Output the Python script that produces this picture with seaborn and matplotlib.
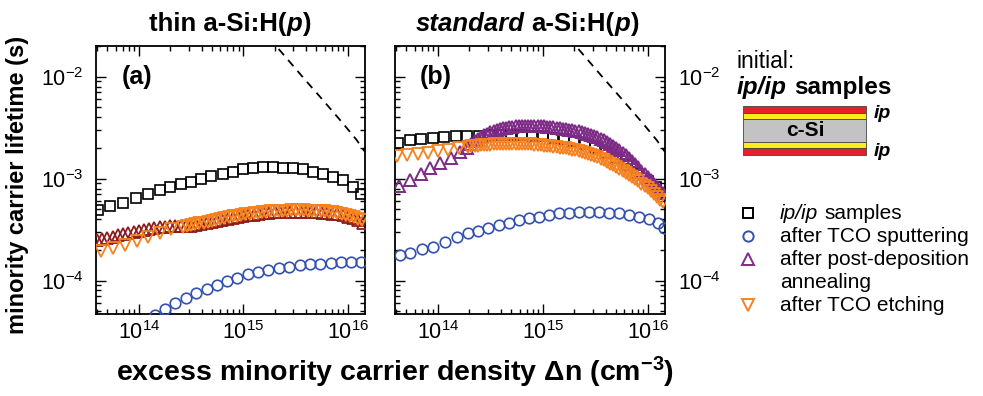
#%% Cargar datos
import seaborn as sns
import matplotlib
matplotlib.use('Agg')
import matplotlib.pyplot as plt
from matplotlib import font_manager
from matplotlib.patches import Rectangle
from matplotlib.ticker import LogLocator, NullFormatter

# panel (a): thin a-Si:H(p)
dn_a_sq = [4.08e13, 5.28e13, 7.08e13, 9.51e13, 1.23e14, 1.59e14, 1.98e14, 2.56e14, 3.19e14, 3.98e14,
           4.95e14, 6.41e14, 8.00e14, 9.95e14, 1.24e15, 1.55e15, 1.93e15, 2.40e15, 3.00e15, 3.73e15,
           4.66e15, 5.81e15, 7.23e15, 9.02e15, 1.12e16, 1.35e16]
tau_a_sq = [4.9e-4, 5.4e-4, 5.8e-4, 6.4e-4, 7.05e-4, 7.7e-4, 8.3e-4, 8.8e-4, 9.3e-4, 1.0e-3,
            1.06e-3, 1.12e-3, 1.17e-3, 1.23e-3, 1.26e-3, 1.29e-3, 1.29e-3, 1.28e-3, 1.26e-3, 1.23e-3,
            1.17e-3, 1.11e-3, 1.04e-3, 9.7e-4, 8.3e-4, 7.05e-4]

dn_a_ci = [1.42e14, 1.79e14, 2.24e14, 2.82e14, 3.54e14, 4.45e14, 5.58e14, 7.01e14, 8.79e14, 1.10e15,
           1.39e15, 1.74e15, 2.19e15, 2.75e15, 3.45e15, 4.34e15, 5.45e15, 6.84e15, 8.59e15, 1.08e16, 1.35e16]
tau_a_ci = [4.6e-5, 5.3e-5, 5.97e-5, 6.7e-5, 7.5e-5, 8.2e-5, 9.0e-5, 1.0e-4, 1.07e-4, 1.15e-4,
            1.22e-4, 1.27e-4, 1.33e-4, 1.36e-4, 1.41e-4, 1.44e-4, 1.47e-4, 1.50e-4, 1.51e-4, 1.52e-4, 1.52e-4]

dn_a_up = [3.98e13, 4.47e13, 5.01e13, 5.62e13, 6.31e13, 7.08e13, 7.94e13, 8.91e13,
           1.00e14, 1.12e14, 1.26e14, 1.41e14, 1.58e14, 1.78e14, 2.00e14, 2.24e14, 2.51e14, 2.82e14,
           3.16e14, 3.55e14, 3.98e14, 4.47e14, 5.01e14, 5.62e14, 6.31e14, 7.08e14, 7.94e14, 8.91e14,
           1.00e15, 1.12e15, 1.26e15, 1.41e15, 1.58e15, 1.78e15, 2.00e15, 2.24e15, 2.51e15, 2.82e15,
           3.16e15, 3.55e15, 3.98e15, 4.47e15, 5.01e15, 5.62e15, 6.31e15, 7.08e15, 7.94e15, 8.91e15,
           1.00e16, 1.12e16, 1.26e16, 1.41e16]
tau_a_up = [2.50e-4, 2.55e-4, 2.62e-4, 2.70e-4, 2.78e-4, 2.86e-4, 2.94e-4, 3.01e-4,
            3.08e-4, 3.15e-4, 3.22e-4, 3.27e-4, 3.32e-4, 3.36e-4, 3.40e-4, 3.42e-4, 3.43e-4, 3.44e-4,
            3.45e-4, 3.50e-4, 3.57e-4, 3.66e-4, 3.75e-4, 3.86e-4, 3.96e-4, 4.05e-4, 4.13e-4, 4.22e-4,
            4.30e-4, 4.37e-4, 4.44e-4, 4.50e-4, 4.56e-4, 4.62e-4, 4.66e-4, 4.69e-4, 4.71e-4, 4.72e-4,
            4.73e-4, 4.73e-4, 4.72e-4, 4.70e-4, 4.68e-4, 4.65e-4, 4.60e-4, 4.53e-4, 4.45e-4, 4.35e-4,
            4.22e-4, 4.07e-4, 3.90e-4, 3.70e-4]

dn_a_dn = [4.37e13, 5.62e13, 7.41e13, 9.55e13, 1.23e14, 1.58e14, 2.04e14, 2.63e14,
           2.88e14, 3.16e14, 3.47e14, 3.80e14, 4.17e14, 4.57e14, 5.01e14, 5.50e14, 6.03e14, 6.61e14,
           7.24e14, 7.94e14, 8.71e14, 9.55e14,
           1.05e15, 1.15e15, 1.26e15, 1.38e15, 1.51e15, 1.66e15, 1.82e15, 2.00e15, 2.19e15, 2.40e15,
           2.63e15, 2.88e15, 3.16e15, 3.47e15, 3.80e15, 4.17e15, 4.57e15, 5.01e15, 5.50e15, 6.03e15,
           6.61e15, 7.24e15, 7.94e15, 8.71e15, 9.55e15,
           1.05e16, 1.15e16, 1.26e16, 1.38e16]
tau_a_dn = [1.96e-4, 2.07e-4, 2.23e-4, 2.46e-4, 2.69e-4, 2.94e-4, 3.18e-4, 3.37e-4,
            3.43e-4, 3.50e-4, 3.56e-4, 3.63e-4, 3.71e-4, 3.79e-4, 3.87e-4, 3.96e-4, 4.04e-4, 4.12e-4,
            4.19e-4, 4.26e-4, 4.33e-4, 4.40e-4,
            4.46e-4, 4.52e-4, 4.58e-4, 4.63e-4, 4.68e-4, 4.73e-4, 4.77e-4, 4.80e-4, 4.83e-4, 4.85e-4,
            4.86e-4, 4.87e-4, 4.88e-4, 4.88e-4, 4.87e-4, 4.86e-4, 4.85e-4, 4.83e-4, 4.81e-4, 4.78e-4,
            4.73e-4, 4.67e-4, 4.60e-4, 4.52e-4, 4.42e-4,
            4.32e-4, 4.20e-4, 4.05e-4, 3.90e-4]

# panel (b): standard a-Si:H(p)
dn_b_sq = [4.17e13, 5.37e13, 6.92e13, 8.91e13, 1.15e14, 1.48e14, 1.91e14, 2.45e14, 3.16e14, 3.98e14,
           5.01e14, 6.31e14, 7.94e14, 1.00e15, 1.26e15, 1.58e15, 2.00e15, 2.51e15, 3.16e15, 3.98e15,
           5.01e15, 6.31e15, 7.94e15, 1.00e16, 1.20e16, 1.41e16]
tau_b_sq = [2.25e-3, 2.40e-3, 2.46e-3, 2.52e-3, 2.56e-3, 2.60e-3, 2.62e-3, 2.64e-3, 2.65e-3, 2.66e-3,
            2.66e-3, 2.66e-3, 2.64e-3, 2.60e-3, 2.53e-3, 2.44e-3, 2.32e-3, 2.18e-3, 2.00e-3, 1.80e-3,
            1.58e-3, 1.36e-3, 1.14e-3, 9.5e-4, 8.2e-4, 7.2e-4]

dn_b_ci = [4.33e13, 5.40e13, 6.98e13, 9.02e13, 1.17e14, 1.51e14, 1.95e14, 2.43e14, 3.03e14, 3.78e14,
           4.71e14, 5.87e14, 7.33e14, 9.12e14, 1.14e15, 1.42e15, 1.77e15, 2.20e15, 2.74e15, 3.42e15,
           4.27e15, 5.31e15, 6.62e15, 8.26e15, 1.03e16, 1.24e16, 1.43e16]
tau_b_ci = [1.78e-4, 1.87e-4, 2.02e-4, 2.15e-4, 2.41e-4, 2.69e-4, 2.90e-4, 3.08e-4, 3.25e-4, 3.50e-4,
            3.69e-4, 3.92e-4, 4.07e-4, 4.22e-4, 4.38e-4, 4.56e-4, 4.62e-4, 4.66e-4, 4.70e-4, 4.70e-4,
            4.62e-4, 4.56e-4, 4.38e-4, 4.22e-4, 3.98e-4, 3.69e-4, 3.25e-4]

dn_b_dense = [2.09e14, 2.24e14, 2.40e14, 2.57e14, 2.75e14, 2.95e14, 3.16e14, 3.39e14, 3.63e14, 3.89e14,
              4.17e14, 4.47e14, 4.79e14, 5.13e14, 5.50e14, 5.89e14, 6.31e14, 6.76e14, 7.24e14, 7.76e14,
              8.32e14, 8.91e14, 9.55e14,
              1.02e15, 1.10e15, 1.17e15, 1.26e15, 1.35e15, 1.45e15, 1.55e15, 1.66e15, 1.78e15, 1.91e15,
              2.04e15, 2.19e15, 2.34e15, 2.51e15, 2.69e15, 2.88e15, 3.09e15, 3.31e15, 3.55e15, 3.80e15,
              4.07e15, 4.37e15, 4.68e15, 5.01e15, 5.37e15, 5.75e15, 6.17e15, 6.61e15, 7.08e15, 7.59e15,
              8.13e15, 8.71e15, 9.33e15,
              1.00e16, 1.07e16, 1.15e16, 1.23e16, 1.32e16, 1.41e16]

dn_b_up_low = [4.27e13, 5.37e13, 6.92e13, 8.32e13, 1.05e14, 1.32e14, 1.62e14, 1.91e14]
tau_b_up_low = [8.5e-4, 9.7e-4, 1.11e-3, 1.26e-3, 1.43e-3, 1.61e-3, 1.83e-3, 2.02e-3]
tau_b_up = [2.20e-3, 2.32e-3, 2.43e-3, 2.54e-3, 2.65e-3, 2.76e-3, 2.85e-3, 2.93e-3, 3.00e-3, 3.06e-3,
            3.11e-3, 3.15e-3, 3.19e-3, 3.22e-3, 3.25e-3, 3.27e-3, 3.28e-3, 3.29e-3, 3.30e-3, 3.30e-3,
            3.30e-3, 3.29e-3, 3.28e-3,
            3.26e-3, 3.24e-3, 3.21e-3, 3.19e-3, 3.16e-3, 3.13e-3, 3.10e-3, 3.06e-3, 3.02e-3, 2.98e-3,
            2.94e-3, 2.90e-3, 2.85e-3, 2.79e-3, 2.73e-3, 2.67e-3, 2.61e-3, 2.54e-3, 2.46e-3, 2.38e-3,
            2.29e-3, 2.20e-3, 2.11e-3, 2.01e-3, 1.91e-3, 1.80e-3, 1.70e-3, 1.59e-3, 1.49e-3, 1.39e-3,
            1.29e-3, 1.20e-3, 1.11e-3,
            1.03e-3, 9.6e-4, 8.9e-4, 8.3e-4, 7.7e-4, 7.2e-4]

dn_b_dn_low = [4.07e13, 5.13e13, 6.46e13, 8.13e13, 1.00e14, 1.26e14, 1.58e14, 1.95e14]
tau_b_dn_low = [1.66e-3, 1.70e-3, 1.74e-3, 1.79e-3, 1.87e-3, 1.93e-3, 1.99e-3, 2.05e-3]
tau_b_dn = [2.07e-3, 2.09e-3, 2.11e-3, 2.13e-3, 2.14e-3, 2.15e-3, 2.16e-3, 2.17e-3, 2.18e-3, 2.18e-3,
            2.19e-3, 2.19e-3, 2.19e-3, 2.19e-3, 2.19e-3, 2.19e-3, 2.19e-3, 2.18e-3, 2.18e-3, 2.17e-3,
            2.16e-3, 2.14e-3, 2.13e-3,
            2.11e-3, 2.10e-3, 2.08e-3, 2.06e-3, 2.04e-3, 2.02e-3, 2.01e-3, 1.98e-3, 1.95e-3, 1.92e-3,
            1.89e-3, 1.85e-3, 1.81e-3, 1.78e-3, 1.74e-3, 1.70e-3, 1.66e-3, 1.62e-3, 1.57e-3, 1.51e-3,
            1.46e-3, 1.40e-3, 1.35e-3, 1.30e-3, 1.24e-3, 1.19e-3, 1.14e-3, 1.09e-3, 1.04e-3, 9.9e-4,
            9.4e-4, 8.9e-4, 8.5e-4,
            8.1e-4, 7.6e-4, 7.1e-4, 6.6e-4, 6.2e-4, 5.9e-4]

# dashed limit curve (same in both panels)
dn_lim = [1.78e15, 2.23e15, 3.71e15, 5.77e15, 8.95e15, 1.22e16, 1.42e16, 1.50e16]
tau_lim = [2.4e-2, 1.82e-2, 9.9e-3, 5.9e-3, 3.5e-3, 2.38e-3, 1.9e-3, 1.78e-3]

legend_labels = ['ip/ip samples', 'after TCO sputtering', 'after post-deposition\nannealing', 'after TCO etching']
xticks = [1e14, 1e15, 1e16]
yticks = [1e-4, 1e-3, 1e-2]

#%% estilo
sns.set_style('ticks')
names = {f.name for f in font_manager.fontManager.ttflist}
NARROW = 'Liberation Sans Narrow' in names
FN = 'Liberation Sans Narrow' if NARROW else 'Liberation Sans'
plt.rcParams['font.family'] = ['Liberation Sans', 'DejaVu Sans']
plt.rcParams['mathtext.fontset'] = 'custom'
plt.rcParams['mathtext.rm'] = FN
plt.rcParams['mathtext.it'] = FN + ':italic'
plt.rcParams['mathtext.bf'] = FN + ':bold'
for k in ('text.color', 'axes.labelcolor', 'xtick.color', 'ytick.color', 'axes.edgecolor'):
    plt.rcParams[k] = 'black'

fs_tick = 18 if NARROW else 15.5
fs_title = 21 if NARROW else 18.5
fs_xlab = 24 if NARROW else 20.5
fs_ylab = 20 if NARROW else 17

BLUE, PURPLE, DARKRED, ORANGE = '#3451b2', '#7e2b87', '#8c1d1d', '#f5821f'

W, H = 983, 396
fig = plt.figure(figsize=(W / 100, H / 100), dpi=100)
ax_a = fig.add_axes([96 / W, 1 - 314 / H, 269 / W, 268 / H])
ax_b = fig.add_axes([395 / W, 1 - 314 / H, 270 / W, 268 / H])


def pts(ax, x, y, marker, color, ms, z, mew=1.2):
    sns.lineplot(x=x, y=y, ax=ax, estimator=None, sort=False, linestyle='', marker=marker,
                 markersize=ms, markerfacecolor='none', markeredgecolor=color,
                 markeredgewidth=mew, color=color, zorder=z)


#%% graficos
pts(ax_a, dn_a_sq, tau_a_sq, 's', 'black', 7, 3)
pts(ax_a, dn_a_ci, tau_a_ci, 'o', BLUE, 7.6, 3)
pts(ax_a, dn_a_up, tau_a_up, '^', DARKRED, 8.3, 4, 1.3)
pts(ax_a, dn_a_dn, tau_a_dn, 'v', ORANGE, 8.3, 5, 1.3)

pts(ax_b, dn_b_sq, tau_b_sq, 's', 'black', 7, 3)
pts(ax_b, dn_b_ci, tau_b_ci, 'o', BLUE, 7.6, 3)
pts(ax_b, dn_b_up_low + dn_b_dense, tau_b_up_low + tau_b_up, '^', PURPLE, 8.3, 4, 1.4)
pts(ax_b, dn_b_dn_low + dn_b_dense, tau_b_dn_low + tau_b_dn, 'v', ORANGE, 8.3, 5, 1.3)

for ax, tag in ((ax_a, '(a)'), (ax_b, '(b)')):
    sns.lineplot(x=dn_lim, y=tau_lim, ax=ax, estimator=None, sort=False, color='black',
                 linewidth=1.3, linestyle=(0, (4.5, 3.5)), zorder=6)
    ax.set_xscale('log')
    ax.set_yscale('log')
    ax.set_xlim(3.9e13, 1.46e16)
    ax.set_ylim(4.7e-5, 2.0e-2)
    ax.set_xticks(xticks)
    ax.set_yticks(yticks)
    for axis in (ax.xaxis, ax.yaxis):
        axis.set_minor_locator(LogLocator(base=10, subs=range(2, 10), numticks=20))
        axis.set_minor_formatter(NullFormatter())
    ax.tick_params(which='both', direction='in', top=True, right=True, width=1.0, color='black')
    ax.tick_params(which='major', length=7)
    ax.tick_params(which='minor', length=3.5)
    ax.tick_params(axis='x', pad=5, labelsize=fs_tick, labelfontfamily=FN, labelcolor='black')
    ax.tick_params(axis='y', pad=9, labelsize=fs_tick, labelfontfamily=FN, labelcolor='black')
    ax.set_xlabel('')
    ax.set_ylabel('')
    for sp in ax.spines.values():
        sp.set_linewidth(1.3)
        sp.set_color('black')
    ax.text(0.152, 0.884, tag, transform=ax.transAxes, ha='center', va='center',
            fontsize=18, fontweight='bold', color='black')

ax_b.tick_params(axis='y', labelleft=False, labelright=True)

fig.text(395 / W, 1 - 372 / H, 'excess minority carrier density Δn (cm$^{\\mathbf{-3}}$)',
         ha='center', va='center', fontsize=fs_xlab, fontweight='bold', family=FN)
fig.text(18 / W, 1 - 185 / H, 'minority carrier lifetime (s)', rotation=90,
         ha='center', va='center', fontsize=fs_ylab, fontweight='bold', family=FN)

#%% anotaciones, esquema y leyenda (coordenadas en pixeles)
lax = fig.add_axes([0, 0, 1, 1])
lax.set_xlim(0, W)
lax.set_ylim(H, 0)
lax.axis('off')
lax.patch.set_alpha(0)
rend = fig.canvas.get_renderer()


def rich(x, y, parts, size, family, weight, ha='left'):
    # parts: (texto, estilo); ' ' = espacio
    probe1 = lax.text(0, 0, 'a a', fontsize=size, family=family, fontweight=weight)
    probe2 = lax.text(0, 0, 'aa', fontsize=size, family=family, fontweight=weight)
    sw = probe1.get_window_extent(rend).width - probe2.get_window_extent(rend).width
    probe1.remove()
    probe2.remove()
    objs, widths = [], []
    for s, st in parts:
        if s == ' ':
            objs.append(None)
            widths.append(sw)
            continue
        t = lax.text(0, y, s, fontsize=size, family=family, fontweight=weight, fontstyle=st, va='baseline')
        objs.append(t)
        widths.append(t.get_window_extent(rend).width)
    x0 = x - sum(widths) / 2 if ha == 'center' else x
    for t, wd in zip(objs, widths):
        if t is not None:
            t.set_x(x0)
        x0 += wd


rich(230, 31, [('thin a-Si:H(', 'normal'), ('p', 'italic'), (')', 'normal')], fs_title, FN, 'bold', 'center')
rich(527, 31, [('standard', 'italic'), (' ', ''), ('a-Si:H(', 'normal'), ('p', 'italic'), (')', 'normal')],
     fs_title, FN, 'bold', 'center')

lax.text(737, 62, 'initial:', fontsize=16.5, va='center', ha='left')
rich(737, 94, [('ip/ip', 'italic'), (' ', ''), ('samples', 'normal')], 17.5, 'Liberation Sans', 'bold')

# esquema de capas
layers = [(106, 6.7, '#e4202a'), (112.7, 6.6, '#fbec1c'), (119.3, 22.4, '#c3c3c3'),
          (141.7, 6.0, '#fbec1c'), (147.7, 7.3, '#e4202a')]
for y0, h, c in layers:
    lax.add_patch(Rectangle((743, y0), 123, h, facecolor=c, edgecolor='#444444', linewidth=0.6))
lax.text(805, 131, 'c-Si', fontsize=15, fontweight='bold', ha='center', va='center')
lax.text(874, 113, 'ip', fontsize=14, fontweight='bold', fontstyle='italic', ha='left', va='center')
lax.text(874, 152, 'ip', fontsize=14, fontweight='bold', fontstyle='italic', ha='left', va='center')

# leyenda
rows = [213, 236, 259, 305]
marks = [('s', 'black', 6.8), ('o', BLUE, 7.4), ('^', PURPLE, 8), ('v', ORANGE, 8)]
for yr, (m, c, ms), lab in zip(rows, marks, legend_labels):
    lax.plot([748], [yr], linestyle='', marker=m, markersize=ms, markerfacecolor='none',
             markeredgecolor=c, markeredgewidth=1.4)
    if lab.startswith('ip/ip'):
        rich(780, yr + 6, [('ip/ip', 'italic'), (' ', ''), ('samples', 'normal')], 15, 'Liberation Sans', 'normal')
    else:
        for i, line in enumerate(lab.split('\n')):
            lax.text(780, yr + 6 + 23 * i, line, fontsize=15, va='baseline', ha='left')

fig.savefig('out.png', dpi=100)
